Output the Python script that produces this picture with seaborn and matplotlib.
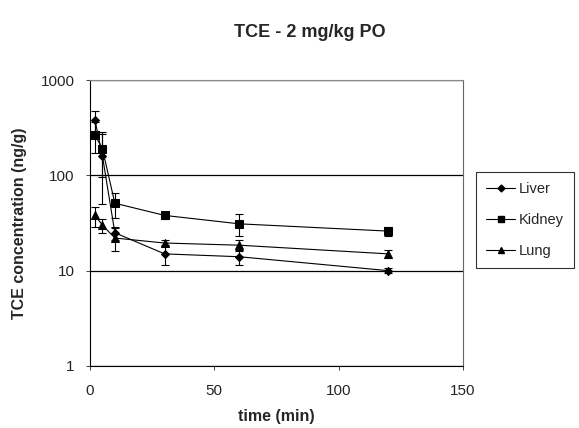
import numpy as np
import pandas as pd
import matplotlib
matplotlib.use("Agg")
import matplotlib.pyplot as plt
import seaborn as sns
from matplotlib.ticker import FixedLocator, NullLocator
from matplotlib.lines import Line2D

sns.set_style("white")
plt.rcParams['font.family'] = ['Liberation Sans', 'DejaVu Sans']

# Datos (ng/g)
tiempo = [2, 5, 10, 30, 60, 120]
tejidos = ['Liver', 'Kidney', 'Lung']
liver = [380, 160, 25, 15, 14, 10]
kidney = [265, 190, 51, 38, 31, 26]
lung = [38, 30, 22, 19.5, 18.5, 15]
liver_err = [90, 110, 4, 3.5, 2.5, 0.6]
kidney_err = [95, 95, 15, 3, 8, 3]
lung_err = [9, 5, 6, 1.5, 2.5, 1.5]

valores = {'Liver': liver, 'Kidney': kidney, 'Lung': lung}
errores = {'Liver': liver_err, 'Kidney': kidney_err, 'Lung': lung_err}
marcadores = {'Liver': 'D', 'Kidney': 's', 'Lung': '^'}
tamanos = {'Liver': 4.5, 'Kidney': 6, 'Lung': 6}

df = pd.DataFrame({
    'time': tiempo * 3,
    'conc': liver + kidney + lung,
    'tejido': [t for t in tejidos for _ in tiempo],
})

fig = plt.figure(figsize=(5.79, 4.28), dpi=100)
ax = fig.add_axes([0.1554, 0.1449, 0.6443, 0.6681])

# barras de error
for t in tejidos:
    ax.errorbar(tiempo, valores[t], yerr=errores[t], fmt='none',
                ecolor='black', elinewidth=0.8, capsize=3, capthick=0.8, zorder=2)

sns.lineplot(data=df, x='time', y='conc', hue='tejido', style='tejido',
             palette=['black'] * 3, markers=marcadores, dashes=False,
             linewidth=0.8, markersize=6, markeredgecolor='black',
             ax=ax, legend=False, zorder=3)

for line, t in zip(ax.get_lines()[-3:], tejidos):
    line.set_markersize(tamanos[t])

ax.set_yscale('log')
ax.set_ylim(1, 1000)
ax.set_xlim(0, 150)
ax.yaxis.set_major_locator(FixedLocator([1, 10, 100, 1000]))
ax.yaxis.set_minor_locator(NullLocator())
ax.set_yticklabels(['1', '10', '100', '1000'])
ax.set_xticks([0, 50, 100, 150])
ax.tick_params(axis='both', labelsize=11, length=3, width=0.6, direction='out',
               left=True, bottom=True, pad=8)
ax.tick_params(axis='x', pad=10)
ax.grid(axis='y', which='major', color='black', linewidth=0.9)
for s in ax.spines.values():
    s.set_color('black')
    s.set_linewidth(0.8)
ax.spines['top'].set_color('#888888')
ax.spines['right'].set_color('#666666')

ax.set_xlabel('time (min)', fontsize=11.5, fontweight='bold', labelpad=8)
ax.set_ylabel('TCE concentration (ng/g)', fontsize=11.5, fontweight='bold', labelpad=10)
fig.text(0.535, 0.925, 'TCE - 2 mg/kg PO', ha='center', va='center',
         fontsize=13, fontweight='bold')

# leyenda
handles = [Line2D([], [], color='black', linewidth=0.8, marker=marcadores[t],
                  markersize=tamanos[t] - 1, markerfacecolor='black') for t in tejidos]
leg = ax.legend(handles, tejidos, loc='center left', bbox_to_anchor=(1.035, 0.51),
                frameon=True, fancybox=False, edgecolor='black', fontsize=10.5,
                handlelength=2.0, labelspacing=1.15, borderpad=0.7,
                handletextpad=0.2, borderaxespad=0.0)
leg.get_frame().set_linewidth(0.8)

fig.savefig('out.png', dpi=100)
